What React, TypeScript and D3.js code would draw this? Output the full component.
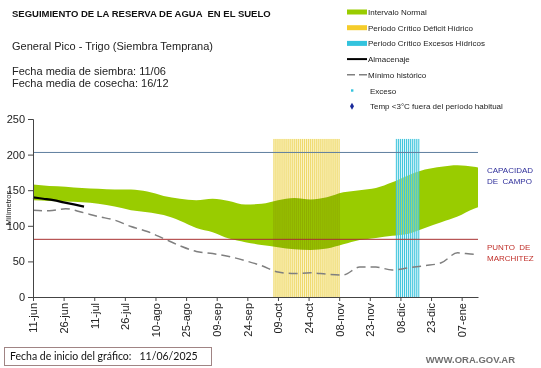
import React, { useEffect, useRef } from 'react'
import * as d3 from 'd3'

// Fechas de la grilla (cada 8 dias desde el inicio)
const fechas = [
  '2025-06-11', '2025-06-19', '2025-06-27', '2025-07-05', '2025-07-13', '2025-07-21',
  '2025-07-29', '2025-08-06', '2025-08-14', '2025-08-22', '2025-08-30', '2025-09-07',
  '2025-09-15', '2025-09-23', '2025-10-01', '2025-10-09', '2025-10-17', '2025-10-25',
  '2025-11-02', '2025-11-10', '2025-11-18', '2025-11-26', '2025-12-04', '2025-12-12',
  '2025-12-20', '2025-12-28', '2026-01-05', '2026-01-13', '2026-01-15'
]
const intervaloSup = [
  158, 156, 155, 153, 152, 151, 151, 148, 142, 138, 136, 138, 135, 130, 131,
  136, 139, 137, 140, 147, 150, 153, 161, 171, 179, 183, 185, 183, 182
]
const intervaloInf = [
  136, 135, 134, 133, 131, 127, 122, 119, 115, 107, 97, 91, 82, 77, 73,
  70, 67, 66, 68, 74, 80, 83, 86, 89, 97, 105, 113, 124, 126
]
const minimoHistorico = [
  122, 121, 124, 119, 113, 108, 99, 92, 82, 72, 64, 61, 57, 51, 44,
  35, 33, 34, 32, 31, 42, 42, 38, 41, 44, 48, 62, 60, 60
]

const almacenajeFechas = ['2025-06-11', '2025-06-16', '2025-06-21', '2025-06-26', '2025-07-01', '2025-07-06']
const almacenaje = [140, 138, 136, 133, 130, 127]

const periodoDeficit = ['2025-10-07', '2025-11-08']
const periodoExceso = ['2025-12-06', '2025-12-17']
const periodoTope = 222

const capacidadCampo = 203
const puntoMarchitez = 81

const xTicks = [
  '2025-06-11', '2025-06-26', '2025-07-11', '2025-07-26', '2025-08-10', '2025-08-25',
  '2025-09-09', '2025-09-24', '2025-10-09', '2025-10-24', '2025-11-08', '2025-11-23',
  '2025-12-08', '2025-12-23', '2026-01-07'
]
const xTickLabels = [
  '11-jun', '26-jun', '11-jul', '26-jul', '10-ago', '25-ago', '09-sep', '24-sep',
  '09-oct', '24-oct', '08-nov', '23-nov', '08-dic', '23-dic', '07-ene'
]
const yTicks = [0, 50, 100, 150, 200, 250]

const legendItems = [
  { label: 'Intervalo Normal', kind: 'bar', color: '#99cc00' },
  { label: 'Periodo Crítico Déficit Hídrico', kind: 'bar', color: '#f5cc2a' },
  { label: 'Periodo Crítico Excesos Hídricos', kind: 'bar', color: '#33c3dd' },
  { label: 'Almacenaje', kind: 'line', color: '#000000' },
  { label: 'Mínimo histórico', kind: 'dash', color: '#808080' },
  { label: 'Exceso', kind: 'dot', color: '#33c3dd' },
  { label: 'Temp <3°C fuera del período habitual', kind: 'diamond', color: '#1a2a9a' }
]

const parse = d3.timeParse('%Y-%m-%d')
const FONT = '"Liberation Sans", Arial, sans-serif'

function App() {
  const ref = useRef<SVGSVGElement>(null)

  useEffect(() => {
    if (!ref.current) return
    const svg = d3.select(ref.current)
    svg.selectAll('*').remove()

    const x = d3.scaleTime()
      .domain([parse('2025-06-11') as Date, parse('2026-01-15') as Date])
      .range([33, 478])
    const y = d3.scaleLinear().domain([0, 250]).range([297, 119])

    const dates = fechas.map(d => parse(d) as Date)
    const band = dates.map((d, i) => ({ d, hi: intervaloSup[i], lo: intervaloInf[i], min: minimoHistorico[i] }))

    // Intervalo normal
    const area = d3.area<any>()
      .x(d => x(d.d))
      .y0(d => y(d.lo))
      .y1(d => y(d.hi))
      .curve(d3.curveMonotoneX)
    svg.append('path').attr('d', area(band)).attr('fill', '#99cc00')

    // Periodos criticos (rayado vertical)
    const periodo = (rango: string[], bg: string, stripe: string, blend: string, bgOp: number) => {
      const a = parse(rango[0]) as Date
      const b = parse(rango[1]) as Date
      const g = svg.append('g').style('mix-blend-mode', blend)
      g.append('rect')
        .attr('x', x(a)).attr('y', y(periodoTope))
        .attr('width', x(b) - x(a)).attr('height', y(0) - y(periodoTope))
        .attr('fill', bg).attr('opacity', bgOp)
      g.append('g').selectAll('rect')
        .data(d3.timeDay.range(a, d3.timeDay.offset(b, 1)))
        .join('rect')
          .attr('x', d => x(d) - 0.5)
          .attr('y', y(periodoTope))
          .attr('width', 1)
          .attr('height', y(0) - y(periodoTope))
          .attr('fill', stripe)
    }
    periodo(periodoDeficit, '#fbf3c6', '#eed868', 'multiply', 1)
    periodo(periodoExceso, '#b8ecf4', '#3cc4dc', 'normal', 0.45)

    // Lineas de referencia
    svg.append('line')
      .attr('x1', 33).attr('x2', 478)
      .attr('y1', y(capacidadCampo)).attr('y2', y(capacidadCampo))
      .attr('stroke', '#5f7f9f').attr('stroke-width', 1)
    svg.append('line')
      .attr('x1', 33).attr('x2', 478)
      .attr('y1', y(puntoMarchitez)).attr('y2', y(puntoMarchitez))
      .attr('stroke', '#a83030').attr('stroke-width', 1)

    // Minimo historico
    const line = d3.line<any>().x(d => x(d.d)).y(d => y(d.v)).curve(d3.curveMonotoneX)
    svg.append('path')
      .attr('d', line(band.map(b => ({ d: b.d, v: b.min }))))
      .attr('fill', 'none').attr('stroke', '#7f7f7f')
      .attr('stroke-width', 1.5).attr('stroke-dasharray', '9,5')

    // Almacenaje
    svg.append('path')
      .attr('d', line(almacenajeFechas.map((f, i) => ({ d: parse(f), v: almacenaje[i] }))))
      .attr('fill', 'none').attr('stroke', '#000').attr('stroke-width', 2.2)

    // Ejes
    const yAxis = svg.append('g')
      .attr('transform', 'translate(33,0)')
      .call(d3.axisLeft(y).tickValues(yTicks).tickSize(5).tickPadding(3))
    yAxis.selectAll('text').attr('font-family', FONT).attr('font-size', 11).attr('fill', '#222')

    const xAxis = svg.append('g')
      .attr('transform', 'translate(0,297)')
      .call(d3.axisBottom(x)
        .tickValues(xTicks.map(t => parse(t) as Date))
        .tickFormat((_, i) => xTickLabels[i])
        .tickSize(4).tickSizeOuter(0))
    xAxis.selectAll('text')
      .attr('font-family', FONT).attr('font-size', 11).attr('fill', '#222')
      .attr('transform', 'rotate(-90)')
      .attr('text-anchor', 'end')
      .attr('x', -6).attr('y', 0).attr('dy', '0.35em')
    svg.selectAll('.domain, .tick line').attr('stroke', '#444')

    svg.append('text')
      .attr('transform', 'translate(11,208) rotate(-90)')
      .attr('text-anchor', 'middle')
      .attr('font-family', FONT).attr('font-size', 7.5).attr('fill', '#222')
      .text('Milímetros')

    // Etiquetas a la derecha
    const rightLabel = (lines: string[], yPos: number, color: string) => {
      lines.forEach((t, i) => {
        svg.append('text').attr('x', 487).attr('y', yPos + i * 10.5)
          .attr('font-family', FONT).attr('font-size', 8).attr('fill', color)
          .style('white-space', 'pre').text(t)
      })
    }
    rightLabel(['CAPACIDAD', 'DE  CAMPO'], 173, '#2e2e9a')
    rightLabel(['PUNTO  DE', 'MARCHITEZ'], 250, '#c0302a')

    // Titulos
    const txt = (t: string, xp: number, yp: number, size: number, weight = 'normal', color = '#222') =>
      svg.append('text').attr('x', xp).attr('y', yp)
        .attr('font-family', FONT).attr('font-size', size)
        .attr('font-weight', weight).attr('fill', color)
        .style('white-space', 'pre').text(t)
    txt('SEGUIMIENTO DE LA RESERVA DE AGUA  EN EL SUELO', 12, 17, 9.5, 'bold', '#111')
    txt('General Pico - Trigo (Siembra Temprana)', 12, 50, 11)
    txt('Fecha media de siembra: 11/06', 12, 75, 11)
    txt('Fecha media de cosecha: 16/12', 12, 87, 11)

    // Leyenda
    legendItems.forEach((it, i) => {
      const cy = 12 + i * 15.7
      const g = svg.append('g')
      if (it.kind === 'bar') {
        g.append('rect').attr('x', 347).attr('y', cy - 2.5).attr('width', 20).attr('height', 5).attr('fill', it.color)
      } else if (it.kind === 'line') {
        g.append('line').attr('x1', 347).attr('x2', 367).attr('y1', cy).attr('y2', cy)
          .attr('stroke', it.color).attr('stroke-width', 2)
      } else if (it.kind === 'dash') {
        g.append('line').attr('x1', 347).attr('x2', 367).attr('y1', cy).attr('y2', cy)
          .attr('stroke', it.color).attr('stroke-width', 1.5).attr('stroke-dasharray', '8,4')
      } else if (it.kind === 'dot') {
        g.append('rect').attr('x', 351).attr('y', cy - 1.2).attr('width', 2.4).attr('height', 2.4).attr('fill', it.color)
      } else {
        g.append('path').attr('d', d3.symbol(d3.symbolDiamond, 14)()).attr('transform', `translate(352,${cy})`).attr('fill', it.color)
      }
      g.append('text').attr('x', it.kind === 'dot' || it.kind === 'diamond' ? 370 : 368).attr('y', cy + 3)
        .attr('font-family', FONT).attr('font-size', 8).attr('fill', '#222').text(it.label)
    })

    // Pie
    svg.append('rect').attr('x', 4.5).attr('y', 347.5).attr('width', 207).attr('height', 18)
      .attr('fill', '#fff').attr('stroke', '#a08484').attr('stroke-width', 1)
    svg.append('text').attr('x', 10).attr('y', 360)
      .attr('font-family', 'Lato, "Open Sans", sans-serif').attr('font-size', 10.5).attr('fill', '#111')
      .style('white-space', 'pre')
      .text('Fecha de inicio del gráfico:   11/06/2025')
    txt('WWW.ORA.GOV.AR', 515, 363, 9.5, 'bold', '#707070').attr('text-anchor', 'end')
  }, [])

  return (
    <svg ref={ref} width={541} height={368}
      style={{ position: 'absolute', left: 0, top: 0, background: '#fff' }} />
  )
}

export default App
